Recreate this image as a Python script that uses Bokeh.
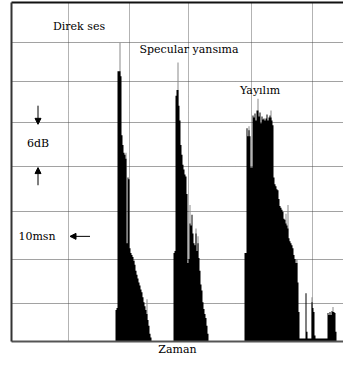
from bokeh.plotting import figure
from bokeh.models import (Range1d, LinearAxis, FixedTicker, Grid, Label, Arrow,
                          NormalHead, ColumnDataSource)
from bokeh.embed import file_html
from bokeh.resources import INLINE

# ---- data (time sample index, level) ----
direct_start = 115
direct_level = [32, 34, 275, 275, 275, 270, 210, 200, 192, 190, 186, 100, 167, 165,
                95, 90, 88, 86, 82, 78, 72, 68, 64, 60, 57, 53, 50, 45, 40, 36, 32,
                28, 22, 16, 8, 4]
direct_tip_x = [119, 125, 133, 146]
direct_tip_level = [304, 192, 84, 43]

specular_start = 173
specular_level = [90, 92, 250, 256, 256, 240, 225, 200, 190, 180, 175, 170, 168, 150,
                  80, 84, 120, 118, 129, 110, 100, 98, 110, 92, 100, 85, 72, 58, 52,
                  40, 33, 28, 24, 16, 8]
specular_tip_x = [177, 189, 195, 197]
specular_tip_level = [284, 139, 115, 107]

diffuse_start = 244
diffuse_level = [90, 90, 217, 209, 215, 209, 177, 177, 230, 228, 232, 225, 235, 235,
                 229, 233, 222, 229, 226, 227, 225, 227, 231, 225, 228, 230, 228, 225,
                 220, 167, 160, 158, 155, 154, 145, 138, 136, 134, 132, 125, 124, 120,
                 118, 115, 105, 102, 100, 98, 95, 88, 84, 80, 80, 60, 30,
                 3, 3, 3, 3, 3, 3, 49, 10, 3, 3, 3, 3, 40, 34, 30, 6,
                 3, 3, 3, 3, 3, 3, 3, 3, 3, 3, 3, 3,
                 29, 27, 30, 27, 31, 30, 30, 29, 10]
diffuse_tip_x = [248, 257, 270, 285, 287, 295, 296, 311, 332]
diffuse_tip_level = [219, 247, 235, 130, 139, 84, 84, 45, 35]

x_grid = [67, 128, 187, 250, 311]
y_grid = [304, 265, 223, 178, 132, 83, 39]

# ---- step outlines of each echo group, built from the data ----
patch_xs, patch_ys = [], []
for start, lev in ((direct_start, direct_level), (specular_start, specular_level),
                   (diffuse_start, diffuse_level)):
    px, py = [start - 0.5], [0]
    for i, v in enumerate(lev):
        x = start + i
        px += [x - 0.5, x + 0.5]
        py += [v, v]
    px.append(start + len(lev) - 0.5)
    py.append(0)
    patch_xs.append(px)
    patch_ys.append(py)
body = ColumnDataSource(dict(xs=patch_xs, ys=patch_ys))
tips = ColumnDataSource(dict(x=direct_tip_x + specular_tip_x + diffuse_tip_x,
                             top=direct_tip_level + specular_tip_level + diffuse_tip_level))

p = figure(width=343, height=358, x_range=Range1d(10.5, 342.5), y_range=Range1d(0, 345),
           x_axis_type=None, y_axis_type=None, output_backend="svg",
           toolbar_location=None, min_border_left=11, min_border_right=0,
           min_border_top=2, min_border_bottom=14)
p.outline_line_color = None
p.background_fill_color = "white"
p.border_fill_color = "white"

FONT = "DejaVu Serif"


def frame_axis(loc, color, width, label=None):
    ax = LinearAxis(ticker=FixedTicker(ticks=[]), axis_line_color=color,
                    axis_line_width=width, major_tick_out=0, major_tick_in=0,
                    minor_tick_out=0, minor_tick_in=0,
                    major_label_text_font_size="0px")
    if label:
        ax.axis_label = label
        ax.axis_label_text_font = FONT
        ax.axis_label_text_font_style = "normal"
        ax.axis_label_text_font_size = "11px"
        ax.axis_label_text_color = "black"
        ax.axis_label_standoff = 1
    p.add_layout(ax, loc)


frame_axis("left", "#333333", 2)
frame_axis("above", "#111111", 2)
frame_axis("below", "#555555", 2, "Zaman")

p.add_layout(Grid(dimension=0, ticker=FixedTicker(ticks=x_grid),
                  grid_line_color="#666666", grid_line_dash="1 1"), "center")
p.add_layout(Grid(dimension=1, ticker=FixedTicker(ticks=y_grid),
                  grid_line_color="#444444", grid_line_dash="1 1"), "center")

p.vbar(x="x", top="top", bottom=0, width=1, source=tips, fill_color="#8a8a8a",
       line_color=None)
p.patches(xs="xs", ys="ys", source=body, fill_color="black", line_color=None)

for txt, x, y in (("Direk ses", 78, 321), ("Specular yansıma", 188, 297),
                  ("Yayılım", 259, 255), ("6dB", 37, 201), ("10msn", 36, 107)):
    p.add_layout(Label(x=x, y=y, text=txt, text_align="center", text_baseline="middle",
                       text_font=FONT, text_font_size="11px", text_color="black"))

for xs_, ys_, xe, ye in ((37, 240, 37, 221), (37, 159, 37, 177), (89, 107, 69, 107)):
    p.add_layout(Arrow(end=NormalHead(size=6, fill_color="black", line_color="black"),
                       x_start=xs_, y_start=ys_, x_end=xe, y_end=ye,
                       line_color="black", line_width=1))

open("out.html", "w").write(file_html(p, INLINE))
